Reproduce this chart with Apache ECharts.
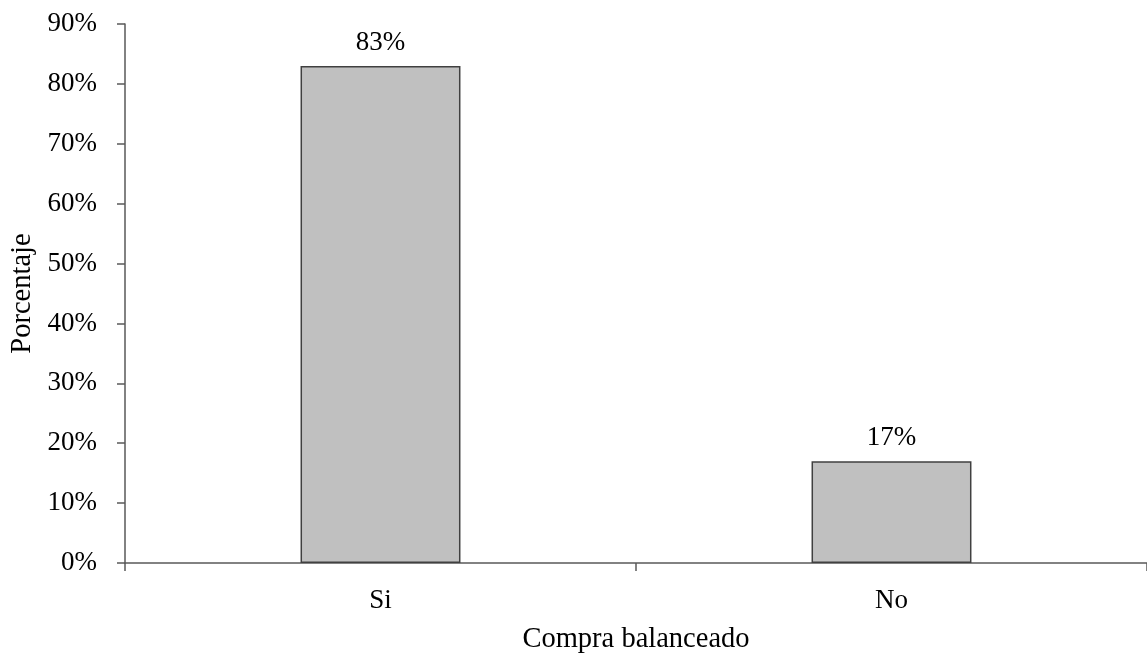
<!DOCTYPE html>
<html>
<head>
<meta charset="utf-8">
<script src="https://cdn.jsdelivr.net/npm/echarts@6/dist/echarts.min.js"></script>
<style>
  html, body { margin: 0; padding: 0; background: #ffffff; }
  #chart { width: 1147px; height: 653px; }
</style>
</head>
<body>
<div id="chart"></div>
<script>
// Survey answers: does the respondent buy feed ("balanceado")?
const categories = ['Si', 'No'];
const percentages = [83, 17];
const yTicks = [0, 10, 20, 30, 40, 50, 60, 70, 80, 90];

const serif = '"Liberation Serif", "DejaVu Serif", serif';
const axisColor = '#595959';
const fs = 27;
const nameFs = 28.5;

const chart = echarts.init(document.getElementById('chart'), null, { renderer: 'canvas' });

chart.setOption({
  animation: false,
  backgroundColor: '#ffffff',
  grid: { left: 125, right: 0, top: 24, bottom: 90, containLabel: false, outerBoundsMode: 'none' },
  xAxis: {
    type: 'category',
    data: categories,
    name: 'Compra balanceado',
    nameLocation: 'middle',
    nameGap: 62,
    nameTextStyle: { fontFamily: serif, fontSize: nameFs, color: '#000' },
    axisLine: { lineStyle: { color: axisColor, width: 1.5 } },
    axisTick: { show: true, length: 8, alignWithLabel: false, lineStyle: { color: axisColor, width: 1.5 } },
    axisLabel: { fontFamily: serif, fontSize: fs, color: '#000', margin: 24 },
    splitLine: { show: false }
  },
  yAxis: {
    type: 'value',
    min: yTicks[0],
    max: yTicks[yTicks.length - 1],
    interval: yTicks[1] - yTicks[0],
    name: 'Porcentaje',
    nameLocation: 'middle',
    nameGap: 87,
    nameRotate: 90,
    nameTextStyle: { fontFamily: serif, fontSize: nameFs, color: '#000' },
    axisLine: { show: true, lineStyle: { color: axisColor, width: 1.5 } },
    axisTick: { show: true, length: 8, lineStyle: { color: axisColor, width: 1.5 } },
    axisLabel: { fontFamily: serif, fontSize: fs, color: '#000', margin: 28, formatter: '{value}%' },
    splitLine: { show: false }
  },
  series: [{
    type: 'bar',
    data: percentages,
    barWidth: '31.3%',
    itemStyle: { color: '#c0c0c0', borderColor: '#404040', borderWidth: 1.5 },
    label: {
      show: true,
      position: 'top',
      distance: 10,
      fontFamily: serif,
      fontSize: fs,
      color: '#000',
      formatter: p => p.value + '%'
    }
  }]
});
</script>
</body>
</html>
